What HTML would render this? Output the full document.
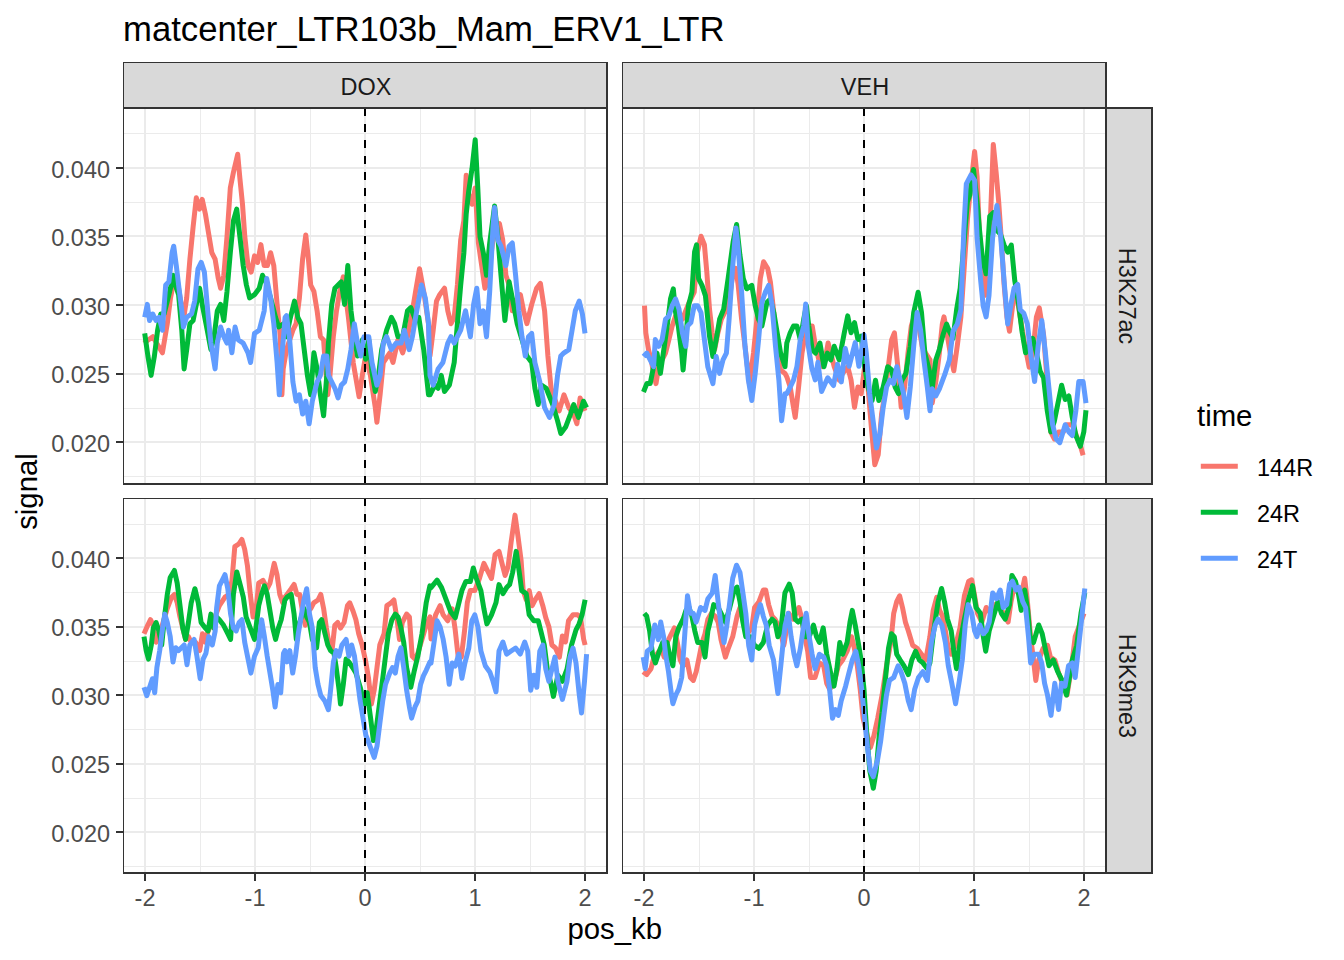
<!DOCTYPE html><html><head><meta charset="utf-8"><style>html,body{margin:0;padding:0;background:#fff;}svg{display:block} text{font-family:'Liberation Sans', sans-serif}</style></head><body>
<svg width="1344" height="960" viewBox="0 0 1344 960">
<rect x="0" y="0" width="1344" height="960" fill="#fff"/>
<text x="123" y="41" font-size="34.7" fill="#000">matcenter_LTR103b_Mam_ERV1_LTR</text>
<g shape-rendering="crispEdges"><rect x="123" y="476" width="485" height="1" fill="#EBEBEB"/><rect x="123" y="408" width="485" height="1" fill="#EBEBEB"/><rect x="123" y="339" width="485" height="1" fill="#EBEBEB"/><rect x="123" y="271" width="485" height="1" fill="#EBEBEB"/><rect x="123" y="202" width="485" height="1" fill="#EBEBEB"/><rect x="123" y="133" width="485" height="1" fill="#EBEBEB"/><rect x="200" y="108" width="1" height="377" fill="#EBEBEB"/><rect x="310" y="108" width="1" height="377" fill="#EBEBEB"/><rect x="420" y="108" width="1" height="377" fill="#EBEBEB"/><rect x="530" y="108" width="1" height="377" fill="#EBEBEB"/><rect x="123" y="441" width="485" height="2" fill="#EBEBEB"/><rect x="123" y="373" width="485" height="2" fill="#EBEBEB"/><rect x="123" y="304" width="485" height="2" fill="#EBEBEB"/><rect x="123" y="235" width="485" height="2" fill="#EBEBEB"/><rect x="123" y="167" width="485" height="2" fill="#EBEBEB"/><rect x="144" y="108" width="2" height="377" fill="#EBEBEB"/><rect x="254" y="108" width="2" height="377" fill="#EBEBEB"/><rect x="364" y="108" width="2" height="377" fill="#EBEBEB"/><rect x="474" y="108" width="2" height="377" fill="#EBEBEB"/><rect x="584" y="108" width="2" height="377" fill="#EBEBEB"/></g>
<path d="M144.0,343.1 L152.8,336.7 L162.4,352.8 L167.3,323.7 L170.5,297.9 L173.7,281.8 L177.0,278.5 L180.2,297.9 L183.4,320.5 L186.7,297.9 L189.9,259.2 L193.1,226.9 L196.3,197.8 L199.6,209.1 L202.2,199.4 L205.4,214.0 L208.6,233.3 L211.8,252.7 L215.1,259.2 L218.3,278.5 L220.6,288.2 L223.8,275.3 L227.0,236.6 L230.3,188.1 L233.5,172.0 L237.7,154.2 L239.9,178.4 L242.5,204.3 L244.8,236.6 L248.0,265.6 L251.2,272.1 L254.5,255.9 L257.7,262.4 L260.9,244.6 L264.2,265.6 L267.4,265.6 L270.6,252.7 L273.8,265.6 L277.1,304.4 L280.3,336.7 L281.9,394.8 L283.2,368.9 L286.5,349.6 L292.9,330.2 L296.1,323.7 L299.4,297.9 L302.6,259.2 L305.8,234.9 L308.4,259.2 L310.7,285.0 L313.9,291.4 L317.1,310.8 L320.4,336.7 L323.6,339.9 L325.2,362.5 L327.8,394.8 L330.0,375.4 L333.3,336.7 L336.5,310.8 L339.7,291.4 L343.3,276.9 L348.5,318.2 L353.3,363.1 L359.1,396.7 L362.3,375.4 L365.6,356.0 L370.4,375.4 L375.3,407.7 L376.9,422.2 L380.1,394.8 L383.3,362.5 L389.8,352.8 L393.0,362.5 L397.9,339.9 L402.7,352.8 L407.5,336.7 L412.4,310.8 L415.6,291.4 L419.5,268.8 L423.7,291.4 L428.5,323.7 L430.0,356.0 L433.2,330.2 L436.5,301.1 L439.7,294.7 L444.5,288.2 L447.8,310.8 L451.0,323.7 L454.2,317.3 L457.4,285.0 L460.7,239.8 L463.9,220.4 L466.2,175.2 L468.7,194.6 L472.0,204.3 L475.2,188.1 L478.4,243.0 L481.7,265.6 L484.9,288.2 L488.1,281.8 L491.3,252.7 L494.6,226.9 L499.4,223.6 L502.7,239.8 L505.9,275.3 L509.1,285.0 L512.3,310.8 L515.6,301.1 L520.4,294.7 L523.6,310.8 L526.9,323.7 L531.7,304.4 L536.6,288.2 L540.4,283.4 L544.6,310.8 L547.9,356.0 L551.1,388.3 L554.3,398.0 L559.2,410.9 L564.0,394.8 L568.8,407.7 L573.7,414.1 L576.9,423.8 L580.1,398.0 L585.0,410.9" fill="none" stroke="#F8766D" stroke-width="5.0" stroke-linejoin="round" stroke-linecap="butt"/>
<path d="M144.7,333.4 L147.9,356.0 L151.1,375.4 L154.4,356.0 L157.6,330.2 L160.8,314.0 L164.1,314.0 L167.3,301.1 L170.5,288.2 L173.1,275.3 L175.4,285.0 L178.6,294.7 L181.8,330.2 L184.1,368.9 L186.7,349.6 L189.9,323.7 L193.1,320.5 L196.3,304.4 L199.6,288.2 L202.8,307.6 L206.0,323.7 L210.9,349.6 L214.1,336.7 L217.3,310.8 L220.6,304.4 L223.8,320.5 L227.0,291.4 L230.3,252.7 L233.5,220.4 L236.7,209.1 L239.9,236.6 L243.2,265.6 L246.4,285.0 L249.6,297.9 L254.5,294.7 L259.3,288.2 L262.5,275.3 L265.8,281.8 L270.6,297.9 L275.5,317.3 L278.7,327.0 L283.5,323.7 L286.5,336.7 L289.7,320.5 L294.5,301.1 L297.8,317.3 L301.0,323.7 L304.2,349.6 L307.4,375.4 L310.7,394.8 L313.9,352.8 L317.1,368.9 L320.4,394.8 L323.6,415.8 L326.8,375.4 L328.4,343.1 L331.7,304.4 L334.9,288.2 L338.1,285.0 L341.3,281.8 L344.6,304.4 L347.8,265.6 L351.0,310.8 L354.3,336.7 L357.5,356.0 L362.3,339.9 L365.6,359.3 L368.8,339.9 L372.0,372.2 L375.3,391.5 L378.5,375.4 L381.7,349.6 L386.6,330.2 L391.4,317.3 L394.6,323.7 L397.9,336.7 L402.7,336.7 L407.5,310.8 L410.8,307.6 L415.6,320.5 L418.8,317.3 L423.7,349.6 L428.5,394.8 L430.0,394.8 L434.8,385.1 L438.1,388.3 L441.3,375.4 L444.5,391.5 L449.4,385.1 L454.2,362.5 L457.4,323.7 L460.7,285.0 L463.9,252.7 L466.2,214.0 L468.7,191.3 L472.0,168.7 L475.2,139.7 L477.8,188.1 L480.0,236.6 L483.3,252.7 L486.5,275.3 L489.7,243.0 L494.6,205.9 L497.8,236.6 L501.0,275.3 L504.9,320.5 L509.1,281.8 L512.3,297.9 L517.2,323.7 L522.0,339.9 L526.9,356.0 L531.7,362.5 L534.9,388.3 L538.2,404.5 L541.4,385.1 L546.2,388.3 L552.7,404.5 L557.5,420.6 L560.8,433.5 L565.6,427.1 L570.5,414.1 L573.7,404.5 L578.5,417.4 L583.4,401.2 L586.6,407.7" fill="none" stroke="#00BA38" stroke-width="5.0" stroke-linejoin="round" stroke-linecap="butt"/>
<path d="M144.7,317.3 L147.3,304.4 L149.5,320.5 L152.8,314.0 L156.0,320.5 L159.2,317.3 L162.4,330.2 L165.7,285.0 L168.9,281.8 L172.1,252.7 L173.7,246.2 L176.3,265.6 L178.6,285.0 L181.8,310.8 L183.4,327.0 L186.7,317.3 L191.5,314.0 L194.7,301.1 L198.0,268.8 L201.2,262.4 L204.4,272.1 L207.7,310.8 L210.9,343.1 L215.1,368.9 L217.3,343.1 L220.6,327.0 L223.8,336.7 L227.0,343.1 L228.6,330.2 L231.9,352.8 L235.1,327.0 L238.3,339.9 L243.2,343.1 L248.0,352.8 L250.6,362.5 L254.5,333.4 L259.3,330.2 L264.2,310.8 L266.7,278.5 L270.6,297.9 L273.8,323.7 L277.1,362.5 L279.3,394.8 L281.9,356.0 L285.1,317.3 L286.5,315.7 L289.7,339.9 L292.9,381.9 L296.1,401.2 L299.4,394.8 L302.6,414.1 L305.8,401.2 L309.1,423.8 L312.3,401.2 L317.1,381.9 L320.4,375.4 L323.6,356.0 L326.8,356.0 L328.4,375.4 L331.7,381.9 L334.9,388.3 L338.1,398.0 L341.3,385.1 L344.6,381.9 L347.8,368.9 L351.0,349.6 L354.3,323.7 L357.5,343.1 L360.7,356.0 L364.0,336.7 L368.8,336.7 L372.0,362.5 L376.9,385.1 L380.1,375.4 L383.3,343.1 L386.6,336.7 L391.4,349.6 L396.2,343.1 L401.1,343.1 L404.3,330.2 L409.2,349.6 L412.4,336.7 L415.6,317.3 L421.4,285.0 L425.3,297.9 L428.5,323.7 L430.0,375.4 L433.2,385.1 L438.1,368.9 L442.9,362.5 L447.8,343.1 L451.0,336.7 L454.2,343.1 L457.4,336.7 L460.7,330.2 L465.5,310.8 L470.4,336.7 L473.6,304.4 L476.8,288.2 L480.0,323.7 L483.3,310.8 L486.5,336.7 L489.7,291.4 L493.0,226.9 L494.6,207.5 L497.8,239.8 L501.0,246.2 L505.9,265.6 L509.1,246.2 L512.3,243.0 L515.6,275.3 L518.8,310.8 L522.0,336.7 L525.3,356.0 L528.5,336.7 L531.7,333.4 L534.9,362.5 L539.8,381.9 L544.6,407.7 L549.5,417.4 L554.3,404.5 L557.5,375.4 L560.8,356.0 L564.0,352.8 L568.8,349.6 L572.1,330.2 L575.3,310.8 L579.2,301.1 L582.4,314.0 L585.0,333.4" fill="none" stroke="#619CFF" stroke-width="5.0" stroke-linejoin="round" stroke-linecap="butt"/>
<g shape-rendering="crispEdges"><rect x="364" y="108" width="2" height="8" fill="#000"/><rect x="364" y="124" width="2" height="8" fill="#000"/><rect x="364" y="140" width="2" height="8" fill="#000"/><rect x="364" y="156" width="2" height="8" fill="#000"/><rect x="364" y="172" width="2" height="8" fill="#000"/><rect x="364" y="188" width="2" height="8" fill="#000"/><rect x="364" y="204" width="2" height="8" fill="#000"/><rect x="364" y="220" width="2" height="8" fill="#000"/><rect x="364" y="236" width="2" height="8" fill="#000"/><rect x="364" y="252" width="2" height="8" fill="#000"/><rect x="364" y="268" width="2" height="8" fill="#000"/><rect x="364" y="284" width="2" height="8" fill="#000"/><rect x="364" y="300" width="2" height="8" fill="#000"/><rect x="364" y="316" width="2" height="8" fill="#000"/><rect x="364" y="332" width="2" height="8" fill="#000"/><rect x="364" y="348" width="2" height="8" fill="#000"/><rect x="364" y="364" width="2" height="8" fill="#000"/><rect x="364" y="380" width="2" height="8" fill="#000"/><rect x="364" y="396" width="2" height="8" fill="#000"/><rect x="364" y="412" width="2" height="8" fill="#000"/><rect x="364" y="428" width="2" height="8" fill="#000"/><rect x="364" y="444" width="2" height="8" fill="#000"/><rect x="364" y="460" width="2" height="8" fill="#000"/><rect x="364" y="476" width="2" height="8" fill="#000"/></g>
<g shape-rendering="crispEdges"><rect x="123" y="108" width="1" height="377" fill="#333333"/><rect x="606" y="108" width="2" height="377" fill="#333333"/><rect x="123" y="107" width="485" height="2" fill="#333333"/><rect x="123" y="483" width="485" height="2" fill="#333333"/></g>
<g shape-rendering="crispEdges"><rect x="622" y="476" width="485" height="1" fill="#EBEBEB"/><rect x="622" y="408" width="485" height="1" fill="#EBEBEB"/><rect x="622" y="339" width="485" height="1" fill="#EBEBEB"/><rect x="622" y="271" width="485" height="1" fill="#EBEBEB"/><rect x="622" y="202" width="485" height="1" fill="#EBEBEB"/><rect x="622" y="133" width="485" height="1" fill="#EBEBEB"/><rect x="699" y="108" width="1" height="377" fill="#EBEBEB"/><rect x="809" y="108" width="1" height="377" fill="#EBEBEB"/><rect x="919" y="108" width="1" height="377" fill="#EBEBEB"/><rect x="1029" y="108" width="1" height="377" fill="#EBEBEB"/><rect x="622" y="441" width="485" height="2" fill="#EBEBEB"/><rect x="622" y="373" width="485" height="2" fill="#EBEBEB"/><rect x="622" y="304" width="485" height="2" fill="#EBEBEB"/><rect x="622" y="235" width="485" height="2" fill="#EBEBEB"/><rect x="622" y="167" width="485" height="2" fill="#EBEBEB"/><rect x="643" y="108" width="2" height="377" fill="#EBEBEB"/><rect x="753" y="108" width="2" height="377" fill="#EBEBEB"/><rect x="863" y="108" width="2" height="377" fill="#EBEBEB"/><rect x="973" y="108" width="2" height="377" fill="#EBEBEB"/><rect x="1083" y="108" width="2" height="377" fill="#EBEBEB"/></g>
<path d="M644.5,305.7 L645.8,332.8 L648.5,349.7 L651.2,359.9 L653.6,373.4 L656.0,383.6 L658.7,366.7 L662.1,359.9 L665.5,353.1 L668.9,339.6 L672.2,326.0 L675.6,315.9 L679.0,312.5 L682.4,319.3 L689.2,302.3 L694.2,292.2 L697.6,251.6 L701.0,236.3 L704.4,244.8 L706.8,271.9 L709.5,309.1 L712.2,332.8 L714.6,349.7 L717.9,332.8 L721.3,319.3 L726.4,309.1 L729.8,295.6 L733.2,271.9 L735.9,268.5 L738.2,285.4 L741.6,319.3 L745.0,346.3 L749.4,383.6 L753.5,353.1 L756.9,319.3 L760.3,278.6 L763.6,261.7 L767.7,268.5 L770.4,282.0 L773.8,312.5 L777.2,353.1 L780.6,370.0 L785.0,373.4 L786.8,376.8 L790.2,387.0 L793.5,407.3 L795.2,417.4 L798.6,387.0 L802.0,353.1 L805.4,332.8 L808.8,326.0 L812.2,326.0 L815.5,346.3 L818.9,359.9 L822.3,366.7 L825.7,356.5 L828.1,343.0 L830.8,353.1 L834.2,366.7 L839.2,380.2 L842.6,373.4 L847.7,366.7 L851.1,380.2 L854.5,407.3 L857.9,387.0 L861.2,393.7 L864.6,366.7 L868.0,387.0 L871.4,427.6 L874.8,464.8 L878.2,454.7 L881.6,414.0 L884.9,393.7 L888.3,366.7 L891.7,339.6 L894.4,332.8 L897.8,366.7 L901.2,407.3 L904.6,387.0 L908.0,353.1 L911.3,326.0 L915.4,312.5 L918.8,326.0 L922.2,346.3 L925.6,353.1 L930.0,359.9 L932.2,403.1 L935.8,381.6 L939.4,352.8 L942.3,324.1 L944.0,316.9 L946.6,331.3 L950.2,352.8 L953.8,370.8 L957.3,345.6 L960.9,316.9 L963.8,273.8 L967.4,219.8 L971.0,183.9 L974.6,151.6 L977.1,176.7 L979.6,237.8 L982.5,273.8 L985.4,295.3 L987.9,273.8 L990.4,219.8 L993.3,144.4 L996.2,173.1 L998.7,201.9 L1001.2,237.8 L1004.1,284.5 L1006.9,316.9 L1009.5,331.3 L1013.0,302.5 L1016.6,295.3 L1020.2,316.9 L1024.9,345.6 L1029.2,367.2 L1032.8,352.8 L1036.4,316.9 L1039.3,307.9 L1043.6,334.8 L1047.2,381.6 L1050.8,431.9 L1054.4,439.1 L1058.7,431.9 L1063.4,431.9 L1067.0,424.7 L1072.3,424.7 L1077.7,439.1 L1080.6,446.3 L1083.1,455.2" fill="none" stroke="#F8766D" stroke-width="5.0" stroke-linejoin="round" stroke-linecap="butt"/>
<path d="M643.5,392.0 L646.8,383.6 L650.2,383.6 L653.6,366.7 L657.0,353.1 L660.4,373.4 L663.8,349.7 L667.2,326.0 L670.5,299.0 L673.3,288.8 L675.6,312.5 L678.3,326.0 L681.7,353.1 L683.1,370.0 L685.8,339.6 L688.5,305.7 L691.9,292.2 L694.6,251.6 L696.6,244.8 L698.6,278.6 L702.0,285.4 L705.4,295.6 L709.5,336.2 L712.9,356.5 L716.2,339.6 L719.6,319.3 L723.7,309.1 L728.1,278.6 L733.2,241.4 L736.6,224.5 L739.9,254.9 L743.3,278.6 L746.7,288.8 L751.8,285.4 L755.2,305.7 L758.6,319.3 L761.9,326.0 L767.0,302.3 L770.4,299.0 L773.8,312.5 L777.2,332.8 L780.6,353.1 L785.0,366.7 L786.8,343.0 L790.2,332.8 L793.5,326.0 L796.9,326.0 L800.3,339.6 L803.7,319.3 L806.4,305.7 L808.8,326.0 L812.2,349.7 L815.5,353.1 L819.9,343.0 L824.0,366.7 L827.4,353.1 L830.8,359.9 L834.2,346.3 L839.2,359.9 L844.3,332.8 L847.7,315.9 L851.1,332.8 L854.5,322.6 L857.9,339.6 L861.2,336.2 L864.6,366.7 L868.0,387.0 L872.1,400.5 L875.5,380.2 L878.8,400.5 L883.2,387.0 L887.7,366.7 L891.7,370.0 L895.1,387.0 L898.5,393.7 L901.9,380.2 L905.9,373.4 L910.3,346.3 L913.7,312.5 L918.1,292.2 L921.5,312.5 L924.9,353.1 L930.0,373.4 L932.2,388.8 L935.8,360.0 L939.4,349.2 L943.0,334.8 L946.6,324.1 L949.4,331.3 L953.0,338.4 L956.6,309.7 L960.2,288.1 L963.8,245.0 L967.4,201.9 L969.9,194.7 L973.5,169.5 L977.1,201.9 L979.6,230.6 L982.5,259.4 L986.1,273.8 L989.7,216.3 L993.3,212.7 L996.9,230.6 L1000.5,234.2 L1004.1,245.0 L1007.7,252.2 L1011.3,245.0 L1014.8,280.9 L1018.4,302.5 L1022.0,331.3 L1025.6,352.8 L1029.2,345.6 L1032.8,338.4 L1036.4,352.8 L1040.0,370.8 L1043.6,378.0 L1047.2,410.3 L1050.8,431.9 L1054.4,421.1 L1058.0,403.1 L1061.6,385.2 L1065.2,399.5 L1068.8,395.9 L1072.3,417.5 L1075.9,435.5 L1080.3,446.3 L1083.8,431.9 L1086.0,410.3" fill="none" stroke="#00BA38" stroke-width="5.0" stroke-linejoin="round" stroke-linecap="butt"/>
<path d="M643.5,356.5 L646.8,353.1 L650.2,359.9 L653.6,366.7 L655.3,339.6 L658.7,346.3 L662.1,339.6 L665.5,319.3 L668.9,315.9 L672.2,305.7 L675.6,299.0 L679.0,309.1 L682.4,332.8 L685.8,346.3 L687.5,326.0 L690.9,322.6 L694.2,305.7 L697.6,305.7 L701.0,312.5 L704.4,339.6 L707.8,366.7 L712.9,383.6 L716.2,356.5 L719.6,373.4 L723.0,359.9 L726.4,353.1 L729.1,319.3 L732.5,268.5 L735.9,227.9 L738.2,248.2 L741.6,292.2 L745.0,346.3 L748.4,380.2 L751.8,400.5 L755.2,373.4 L758.6,339.6 L761.9,302.3 L765.3,292.2 L768.7,285.4 L772.1,305.7 L775.5,346.3 L778.9,380.2 L781.6,420.8 L785.0,393.7 L786.8,393.7 L790.2,387.0 L793.5,380.2 L796.9,366.7 L800.3,339.6 L803.7,326.0 L805.7,304.0 L808.1,344.7 L811.8,368.0 L815.2,379.9 L817.9,362.3 L821.6,391.4 L827.7,377.8 L833.5,385.6 L837.5,364.3 L841.3,381.9 L845.3,348.4 L849.1,366.3 L855.2,342.6 L858.9,366.3 L864.0,334.8 L866.3,353.1 L869.7,393.7 L873.1,420.8 L876.5,447.9 L879.9,434.4 L883.2,407.3 L886.6,387.0 L890.0,380.2 L893.4,383.6 L896.8,366.7 L900.2,380.2 L903.6,393.7 L906.9,417.4 L910.3,387.0 L913.7,346.3 L917.1,312.5 L920.5,329.4 L923.9,359.9 L927.3,387.0 L930.0,410.7 L932.2,388.8 L935.8,395.9 L939.4,388.8 L944.8,374.4 L949.4,360.0 L953.0,331.3 L957.3,324.1 L960.9,309.7 L963.8,230.6 L966.3,183.9 L971.0,174.9 L974.6,180.3 L977.1,237.8 L980.7,280.9 L983.2,306.1 L986.1,316.9 L989.0,295.3 L992.6,237.8 L996.9,205.5 L1000.5,234.2 L1004.1,280.9 L1007.7,324.1 L1011.3,302.5 L1014.1,288.1 L1017.7,284.5 L1020.2,309.7 L1023.8,313.3 L1027.4,324.1 L1031.0,356.4 L1034.6,381.6 L1038.2,345.6 L1041.8,320.5 L1045.4,352.8 L1049.0,388.8 L1052.6,424.7 L1056.2,439.1 L1059.8,442.7 L1065.2,424.7 L1068.8,431.9 L1072.3,435.5 L1075.9,410.3 L1078.8,381.6 L1083.1,381.6 L1086.0,403.1" fill="none" stroke="#619CFF" stroke-width="5.0" stroke-linejoin="round" stroke-linecap="butt"/>
<g shape-rendering="crispEdges"><rect x="863" y="108" width="2" height="8" fill="#000"/><rect x="863" y="124" width="2" height="8" fill="#000"/><rect x="863" y="140" width="2" height="8" fill="#000"/><rect x="863" y="156" width="2" height="8" fill="#000"/><rect x="863" y="172" width="2" height="8" fill="#000"/><rect x="863" y="188" width="2" height="8" fill="#000"/><rect x="863" y="204" width="2" height="8" fill="#000"/><rect x="863" y="220" width="2" height="8" fill="#000"/><rect x="863" y="236" width="2" height="8" fill="#000"/><rect x="863" y="252" width="2" height="8" fill="#000"/><rect x="863" y="268" width="2" height="8" fill="#000"/><rect x="863" y="284" width="2" height="8" fill="#000"/><rect x="863" y="300" width="2" height="8" fill="#000"/><rect x="863" y="316" width="2" height="8" fill="#000"/><rect x="863" y="332" width="2" height="8" fill="#000"/><rect x="863" y="348" width="2" height="8" fill="#000"/><rect x="863" y="364" width="2" height="8" fill="#000"/><rect x="863" y="380" width="2" height="8" fill="#000"/><rect x="863" y="396" width="2" height="8" fill="#000"/><rect x="863" y="412" width="2" height="8" fill="#000"/><rect x="863" y="428" width="2" height="8" fill="#000"/><rect x="863" y="444" width="2" height="8" fill="#000"/><rect x="863" y="460" width="2" height="8" fill="#000"/><rect x="863" y="476" width="2" height="8" fill="#000"/></g>
<g shape-rendering="crispEdges"><rect x="622" y="108" width="1" height="377" fill="#333333"/><rect x="1105" y="108" width="2" height="377" fill="#333333"/><rect x="622" y="107" width="485" height="2" fill="#333333"/><rect x="622" y="483" width="485" height="2" fill="#333333"/></g>
<g shape-rendering="crispEdges"><rect x="123" y="866" width="485" height="1" fill="#EBEBEB"/><rect x="123" y="798" width="485" height="1" fill="#EBEBEB"/><rect x="123" y="729" width="485" height="1" fill="#EBEBEB"/><rect x="123" y="661" width="485" height="1" fill="#EBEBEB"/><rect x="123" y="592" width="485" height="1" fill="#EBEBEB"/><rect x="123" y="524" width="485" height="1" fill="#EBEBEB"/><rect x="200" y="498" width="1" height="376" fill="#EBEBEB"/><rect x="310" y="498" width="1" height="376" fill="#EBEBEB"/><rect x="420" y="498" width="1" height="376" fill="#EBEBEB"/><rect x="530" y="498" width="1" height="376" fill="#EBEBEB"/><rect x="123" y="831" width="485" height="2" fill="#EBEBEB"/><rect x="123" y="763" width="485" height="2" fill="#EBEBEB"/><rect x="123" y="694" width="485" height="2" fill="#EBEBEB"/><rect x="123" y="626" width="485" height="2" fill="#EBEBEB"/><rect x="123" y="557" width="485" height="2" fill="#EBEBEB"/><rect x="144" y="498" width="2" height="376" fill="#EBEBEB"/><rect x="254" y="498" width="2" height="376" fill="#EBEBEB"/><rect x="364" y="498" width="2" height="376" fill="#EBEBEB"/><rect x="474" y="498" width="2" height="376" fill="#EBEBEB"/><rect x="584" y="498" width="2" height="376" fill="#EBEBEB"/></g>
<path d="M144.0,633.7 L147.7,625.3 L150.5,619.7 L153.3,625.3 L156.1,642.2 L158.9,636.6 L163.1,622.5 L167.3,608.4 L171.6,597.2 L174.4,594.4 L177.2,602.8 L180.0,616.9 L182.8,628.1 L185.6,639.4 L188.4,636.6 L191.2,642.2 L195.5,642.2 L199.7,650.6 L202.5,633.7 L205.3,642.2 L208.1,630.9 L213.7,619.7 L219.4,605.6 L225.0,597.2 L229.2,594.4 L232.0,580.3 L234.8,546.6 L239.1,543.7 L241.9,539.5 L244.7,549.4 L247.5,566.2 L250.3,594.4 L253.1,616.9 L255.9,611.2 L258.7,583.1 L263.0,580.3 L267.2,588.7 L270.0,583.1 L274.2,563.4 L277.0,574.7 L279.8,594.4 L282.7,602.8 L282.8,600.0 L287.0,594.4 L291.2,588.7 L294.1,584.5 L296.9,594.4 L299.7,594.4 L302.5,611.2 L305.3,625.3 L308.1,611.2 L310.9,608.4 L313.7,602.8 L318.0,600.0 L320.8,594.4 L323.6,608.4 L326.4,628.1 L329.2,645.0 L332.0,650.6 L334.8,625.3 L337.7,622.5 L340.5,628.1 L344.1,622.5 L347.5,605.6 L349.7,602.8 L353.1,611.2 L355.9,619.7 L358.7,633.7 L362.1,645.0 L365.8,661.9 L368.6,678.7 L371.4,704.1 L374.2,690.0 L377.0,667.5 L379.8,645.0 L384.1,633.7 L386.9,605.6 L391.1,602.8 L393.9,600.0 L396.7,616.9 L399.5,639.4 L402.3,622.5 L406.6,614.1 L409.4,616.9 L412.2,656.2 L415.0,659.1 L417.8,653.4 L422.0,639.4 L426.2,625.3 L429.9,616.9 L431.0,639.0 L435.6,614.8 L440.1,605.7 L443.1,614.8 L447.7,620.8 L452.2,608.8 L455.2,629.9 L458.2,657.1 L461.3,657.1 L464.3,632.9 L467.3,602.7 L470.3,590.6 L474.8,590.6 L479.4,578.5 L483.9,563.4 L488.4,572.5 L491.5,578.5 L495.1,554.4 L499.0,551.4 L502.0,563.4 L505.1,575.5 L508.1,566.5 L511.1,542.3 L515.0,515.1 L518.0,536.3 L521.1,560.4 L523.2,590.6 L526.2,599.7 L529.2,590.6 L532.2,605.7 L535.3,599.7 L539.2,593.6 L542.8,605.7 L545.8,617.8 L548.9,626.9 L551.9,645.0 L555.5,648.0 L559.4,657.1 L562.4,635.9 L565.5,642.0 L568.5,620.8 L573.0,614.8 L577.6,614.8 L580.6,617.8 L583.6,639.0 L585.1,645.0" fill="none" stroke="#F8766D" stroke-width="5.0" stroke-linejoin="round" stroke-linecap="butt"/>
<path d="M144.0,636.6 L146.2,650.6 L148.5,659.1 L151.3,645.0 L153.3,628.1 L156.1,622.5 L158.9,630.9 L161.7,645.0 L164.5,616.9 L167.3,594.4 L170.2,577.5 L174.4,570.5 L177.2,583.1 L180.0,605.6 L182.8,628.1 L185.6,639.4 L188.4,622.5 L191.2,602.8 L194.9,588.7 L198.3,602.8 L201.1,622.5 L205.3,628.1 L208.1,630.9 L210.9,614.1 L213.7,628.1 L216.6,616.9 L219.4,619.7 L223.6,625.3 L227.8,633.7 L230.6,639.4 L233.4,594.4 L236.8,571.9 L240.5,585.9 L243.3,597.2 L246.1,616.9 L250.3,628.1 L254.5,639.4 L258.7,605.6 L261.6,594.4 L264.4,585.9 L267.2,594.4 L270.0,611.2 L272.8,628.1 L275.6,639.4 L278.4,628.1 L281.2,619.7 L284.9,600.0 L287.0,597.2 L291.2,594.4 L294.1,614.1 L296.3,639.4 L299.7,622.5 L303.9,608.4 L306.7,616.9 L309.5,622.5 L312.3,639.4 L316.6,647.8 L319.4,622.5 L321.6,619.7 L325.0,633.7 L327.8,645.0 L330.6,650.6 L334.0,653.4 L336.2,667.5 L339.1,690.0 L340.5,704.1 L343.3,684.4 L346.1,659.1 L348.9,661.9 L352.6,667.5 L355.9,673.1 L360.2,687.2 L364.4,704.1 L367.2,692.8 L370.6,718.1 L373.4,740.6 L376.2,729.4 L379.8,701.2 L382.7,678.7 L385.5,656.2 L388.3,633.7 L391.9,619.7 L395.3,614.1 L398.1,616.9 L400.9,628.1 L403.7,642.2 L406.6,667.5 L410.8,687.2 L414.4,670.3 L417.8,656.2 L422.0,633.7 L426.2,602.8 L429.9,585.9 L431.0,587.6 L437.1,580.1 L441.6,587.6 L446.1,599.7 L450.7,611.8 L455.2,617.8 L458.2,605.7 L461.9,590.6 L465.8,581.6 L470.3,581.6 L473.3,568.0 L476.4,578.5 L480.9,590.6 L483.9,608.8 L486.9,623.9 L491.5,614.8 L496.0,602.7 L499.0,584.6 L502.9,593.6 L506.6,587.6 L509.6,584.6 L512.6,572.5 L516.2,551.4 L519.3,572.5 L521.7,590.6 L526.2,593.6 L529.2,614.8 L533.8,620.8 L538.3,620.8 L541.3,632.9 L544.3,645.0 L547.3,669.2 L550.4,681.3 L553.4,696.4 L557.9,675.2 L562.4,681.3 L567.0,669.2 L571.5,645.0 L576.0,629.9 L579.1,623.9 L582.1,614.8 L585.1,599.7" fill="none" stroke="#00BA38" stroke-width="5.0" stroke-linejoin="round" stroke-linecap="butt"/>
<path d="M144.0,687.2 L146.8,695.6 L149.6,687.2 L152.4,678.7 L154.7,692.8 L156.9,667.5 L159.7,650.6 L162.6,628.1 L164.8,614.1 L167.3,622.5 L170.2,636.6 L173.0,661.9 L175.8,647.8 L178.6,650.6 L181.4,647.8 L184.2,645.0 L187.0,664.7 L189.8,645.0 L194.1,639.4 L196.9,656.2 L200.2,678.7 L203.1,659.1 L205.9,653.4 L208.7,636.6 L212.3,645.0 L215.2,630.9 L216.6,608.4 L219.4,585.9 L222.2,580.3 L225.0,574.7 L227.8,588.7 L230.6,614.1 L233.4,628.1 L236.2,630.9 L239.1,622.5 L241.9,619.7 L244.7,642.2 L247.5,656.2 L250.9,673.1 L254.5,656.2 L258.2,647.8 L261.6,619.7 L264.4,636.6 L267.2,656.2 L270.0,673.1 L272.8,690.0 L275.1,706.9 L277.9,684.4 L280.7,692.8 L283.5,653.4 L284.9,650.6 L287.0,661.9 L289.8,650.6 L292.7,673.1 L295.5,656.2 L298.3,633.7 L301.1,616.9 L303.9,600.0 L306.7,588.7 L309.5,614.1 L312.3,628.1 L315.2,667.5 L318.0,684.4 L320.8,695.6 L325.0,701.2 L328.4,709.7 L330.6,690.0 L333.4,661.9 L336.2,650.6 L339.1,656.2 L341.9,645.0 L346.1,639.4 L348.9,656.2 L351.7,645.0 L354.5,656.2 L357.3,678.7 L360.2,701.2 L363.0,718.1 L365.8,735.0 L370.0,746.2 L374.2,757.5 L377.0,746.2 L379.8,723.7 L382.7,701.2 L385.5,684.4 L389.7,673.1 L392.5,667.5 L395.3,673.1 L398.1,656.2 L400.9,647.8 L403.7,667.5 L406.6,690.0 L409.4,706.9 L411.6,718.1 L415.0,706.9 L417.8,701.2 L420.6,684.4 L423.4,675.9 L426.2,670.3 L429.9,661.9 L431.0,663.1 L434.1,642.0 L437.1,620.8 L440.1,626.9 L443.1,639.0 L446.1,657.1 L449.2,684.3 L452.2,663.1 L455.2,666.1 L458.8,654.1 L461.9,678.2 L464.9,663.1 L468.8,648.0 L471.8,620.8 L474.8,614.8 L477.9,626.9 L480.9,651.0 L485.4,666.1 L489.9,672.2 L493.0,681.3 L496.0,691.8 L499.0,651.0 L502.9,642.0 L506.6,654.1 L511.1,651.0 L515.6,648.0 L520.2,654.1 L524.7,642.0 L527.7,651.0 L530.7,690.3 L533.8,675.2 L536.8,687.3 L539.8,651.0 L542.8,645.0 L545.8,669.2 L548.9,681.3 L551.9,669.2 L554.9,657.1 L557.9,681.3 L562.4,699.4 L567.0,681.3 L570.0,657.1 L573.0,648.0 L576.0,663.1 L579.1,693.3 L581.5,713.0 L584.5,681.3 L586.6,654.1" fill="none" stroke="#619CFF" stroke-width="5.0" stroke-linejoin="round" stroke-linecap="butt"/>
<g shape-rendering="crispEdges"><rect x="364" y="498" width="2" height="8" fill="#000"/><rect x="364" y="514" width="2" height="8" fill="#000"/><rect x="364" y="530" width="2" height="8" fill="#000"/><rect x="364" y="546" width="2" height="8" fill="#000"/><rect x="364" y="562" width="2" height="8" fill="#000"/><rect x="364" y="578" width="2" height="8" fill="#000"/><rect x="364" y="594" width="2" height="8" fill="#000"/><rect x="364" y="610" width="2" height="8" fill="#000"/><rect x="364" y="626" width="2" height="8" fill="#000"/><rect x="364" y="642" width="2" height="8" fill="#000"/><rect x="364" y="658" width="2" height="8" fill="#000"/><rect x="364" y="674" width="2" height="8" fill="#000"/><rect x="364" y="690" width="2" height="8" fill="#000"/><rect x="364" y="706" width="2" height="8" fill="#000"/><rect x="364" y="722" width="2" height="8" fill="#000"/><rect x="364" y="738" width="2" height="8" fill="#000"/><rect x="364" y="754" width="2" height="8" fill="#000"/><rect x="364" y="770" width="2" height="8" fill="#000"/><rect x="364" y="786" width="2" height="8" fill="#000"/><rect x="364" y="802" width="2" height="8" fill="#000"/><rect x="364" y="818" width="2" height="8" fill="#000"/><rect x="364" y="834" width="2" height="8" fill="#000"/><rect x="364" y="850" width="2" height="8" fill="#000"/><rect x="364" y="866" width="2" height="7" fill="#000"/></g>
<g shape-rendering="crispEdges"><rect x="123" y="498" width="1" height="376" fill="#333333"/><rect x="606" y="498" width="2" height="376" fill="#333333"/><rect x="123" y="498" width="485" height="1" fill="#333333"/><rect x="123" y="872" width="485" height="2" fill="#333333"/></g>
<g shape-rendering="crispEdges"><rect x="622" y="866" width="485" height="1" fill="#EBEBEB"/><rect x="622" y="798" width="485" height="1" fill="#EBEBEB"/><rect x="622" y="729" width="485" height="1" fill="#EBEBEB"/><rect x="622" y="661" width="485" height="1" fill="#EBEBEB"/><rect x="622" y="592" width="485" height="1" fill="#EBEBEB"/><rect x="622" y="524" width="485" height="1" fill="#EBEBEB"/><rect x="699" y="498" width="1" height="376" fill="#EBEBEB"/><rect x="809" y="498" width="1" height="376" fill="#EBEBEB"/><rect x="919" y="498" width="1" height="376" fill="#EBEBEB"/><rect x="1029" y="498" width="1" height="376" fill="#EBEBEB"/><rect x="622" y="831" width="485" height="2" fill="#EBEBEB"/><rect x="622" y="763" width="485" height="2" fill="#EBEBEB"/><rect x="622" y="694" width="485" height="2" fill="#EBEBEB"/><rect x="622" y="626" width="485" height="2" fill="#EBEBEB"/><rect x="622" y="557" width="485" height="2" fill="#EBEBEB"/><rect x="643" y="498" width="2" height="376" fill="#EBEBEB"/><rect x="753" y="498" width="2" height="376" fill="#EBEBEB"/><rect x="863" y="498" width="2" height="376" fill="#EBEBEB"/><rect x="973" y="498" width="2" height="376" fill="#EBEBEB"/><rect x="1083" y="498" width="2" height="376" fill="#EBEBEB"/></g>
<path d="M643.2,671.7 L646.7,674.6 L651.0,668.7 L654.0,657.1 L656.9,654.2 L661.2,648.3 L664.2,657.1 L667.1,642.5 L670.0,636.7 L674.4,627.9 L677.3,642.5 L680.2,660.0 L683.1,665.8 L686.9,660.0 L690.4,677.5 L693.3,680.4 L696.2,671.7 L699.2,657.1 L702.1,642.5 L705.0,633.7 L707.9,619.2 L711.4,613.3 L715.2,616.2 L718.1,622.1 L721.0,639.6 L725.4,657.1 L728.3,648.3 L732.7,636.7 L737.1,616.2 L740.0,607.5 L742.9,619.2 L747.3,633.7 L751.7,627.9 L754.6,607.5 L759.0,601.7 L763.3,590.0 L765.7,590.0 L768.6,604.6 L772.1,616.2 L775.0,619.2 L779.4,627.9 L783.7,645.4 L784.4,642.5 L788.7,613.3 L793.1,619.2 L799.0,607.5 L801.9,619.2 L804.8,636.7 L807.7,651.2 L810.6,677.5 L815.0,677.5 L819.4,662.9 L823.7,665.8 L826.7,683.3 L829.6,689.2 L834.0,683.3 L838.3,665.8 L842.7,660.0 L847.1,651.2 L851.5,636.7 L854.4,648.3 L857.3,665.8 L860.2,689.2 L863.1,718.3 L866.0,730.0 L870.4,747.5 L873.9,735.8 L877.7,718.3 L882.1,695.0 L886.5,665.8 L890.8,642.5 L893.7,613.3 L896.7,601.7 L899.6,595.8 L902.5,607.5 L905.4,622.1 L908.3,630.8 L912.7,645.4 L917.1,648.3 L921.5,654.2 L925.8,660.0 L929.9,636.7 L933.2,610.4 L936.7,597.3 L939.6,610.4 L942.5,616.2 L945.4,630.8 L948.3,648.3 L951.2,654.2 L955.6,645.4 L960.0,627.9 L964.4,595.8 L968.7,581.2 L971.7,579.8 L974.6,595.8 L977.5,613.3 L981.9,622.1 L986.2,607.5 L990.6,613.3 L995.0,604.6 L999.4,607.5 L1003.7,613.3 L1008.1,622.1 L1011.0,601.7 L1014.0,587.1 L1018.3,592.9 L1021.2,595.8 L1024.7,578.3 L1027.7,604.6 L1030.6,636.7 L1033.5,660.0 L1035.8,680.4 L1038.7,660.0 L1043.1,648.3 L1047.5,645.4 L1050.4,657.1 L1054.8,660.0 L1059.2,674.6 L1063.5,686.2 L1067.0,695.0 L1070.8,671.7 L1075.2,636.7 L1079.6,625.0 L1084.0,613.3" fill="none" stroke="#F8766D" stroke-width="5.0" stroke-linejoin="round" stroke-linecap="butt"/>
<path d="M644.3,613.3 L646.7,616.2 L649.6,630.8 L652.5,654.2 L655.4,662.9 L658.3,654.2 L662.7,642.5 L667.1,642.5 L670.0,657.1 L672.9,665.8 L675.8,636.7 L678.7,627.9 L683.1,619.2 L686.0,610.4 L689.0,607.5 L691.9,616.2 L694.8,630.8 L697.7,642.5 L702.1,642.5 L705.0,657.1 L707.9,630.8 L710.8,619.2 L713.7,604.6 L718.1,607.5 L722.5,616.2 L725.4,622.1 L729.8,607.5 L734.2,590.0 L737.1,587.1 L740.0,601.7 L742.9,622.1 L745.8,636.7 L750.2,636.7 L754.6,645.4 L759.0,648.3 L763.3,642.5 L767.7,625.0 L772.1,619.2 L775.0,622.1 L777.9,636.7 L780.8,630.8 L784.9,592.9 L786.4,590.0 L789.3,584.2 L792.2,592.9 L795.2,619.2 L798.1,622.1 L801.9,619.2 L804.8,636.7 L809.2,636.7 L813.5,625.0 L816.5,636.7 L819.4,642.5 L823.2,627.9 L826.7,654.2 L831.0,674.6 L834.0,686.2 L836.9,668.7 L839.8,642.5 L842.7,654.2 L847.1,642.5 L850.0,622.1 L852.3,610.4 L855.2,625.0 L858.2,642.5 L861.1,660.0 L864.0,689.2 L866.9,735.8 L869.8,770.8 L873.3,788.3 L876.2,770.8 L879.2,735.8 L882.1,712.5 L885.0,683.3 L888.5,648.3 L891.4,633.7 L894.3,636.7 L896.7,654.2 L900.2,660.0 L904.0,665.8 L908.3,674.6 L911.8,660.0 L915.6,651.2 L919.4,660.0 L922.9,662.9 L927.3,668.7 L929.9,662.9 L933.7,630.8 L938.1,601.7 L941.6,588.5 L944.5,601.7 L947.5,619.2 L951.2,630.8 L954.2,654.2 L956.5,668.7 L960.0,642.5 L964.4,619.2 L968.7,598.7 L972.5,585.6 L976.0,607.5 L980.4,613.3 L983.3,636.7 L985.7,651.2 L989.2,630.8 L993.5,616.2 L997.9,601.7 L1001.4,613.3 L1005.2,619.2 L1009.6,604.6 L1011.9,575.4 L1015.4,581.2 L1018.3,592.9 L1021.2,610.4 L1024.7,590.0 L1027.7,610.4 L1030.0,636.7 L1033.5,642.5 L1038.7,625.0 L1042.2,633.7 L1045.2,648.3 L1049.0,665.8 L1053.3,660.0 L1057.7,671.7 L1062.1,680.4 L1066.5,695.0 L1069.4,677.5 L1072.3,660.0 L1076.7,645.4 L1081.0,613.3 L1084.8,592.9" fill="none" stroke="#00BA38" stroke-width="5.0" stroke-linejoin="round" stroke-linecap="butt"/>
<path d="M643.2,657.1 L645.2,668.7 L647.2,651.2 L651.0,648.3 L654.8,625.0 L658.3,639.6 L660.7,622.1 L663.6,636.7 L665.6,654.2 L668.5,671.7 L671.5,695.0 L672.9,703.7 L675.8,695.0 L678.7,689.2 L681.7,677.5 L684.6,636.7 L687.5,595.8 L690.4,613.3 L693.3,613.3 L696.2,622.1 L700.6,607.5 L705.0,610.4 L707.9,598.7 L712.3,592.9 L715.2,575.4 L718.1,601.7 L721.0,625.0 L724.0,642.5 L726.9,625.0 L729.8,601.7 L732.7,578.3 L736.5,565.2 L740.0,572.5 L742.9,592.9 L745.8,613.3 L748.7,645.4 L751.7,660.0 L754.6,625.0 L757.5,613.3 L760.4,604.6 L763.3,616.2 L766.2,625.0 L769.2,645.4 L773.5,660.0 L776.5,683.3 L777.9,693.5 L780.8,665.8 L783.7,636.7 L785.2,625.0 L788.2,613.3 L791.1,636.7 L794.0,654.2 L796.9,665.8 L800.4,648.3 L803.3,627.9 L806.2,613.3 L809.2,636.7 L812.1,654.2 L815.0,668.7 L819.4,654.2 L823.7,657.1 L826.7,665.8 L829.6,689.2 L832.5,718.3 L835.4,709.6 L838.3,715.4 L841.2,700.8 L845.6,686.2 L848.5,674.6 L852.3,660.0 L855.8,651.2 L858.7,665.8 L861.7,689.2 L864.6,718.3 L867.5,747.5 L870.4,770.8 L873.3,776.7 L877.7,759.2 L880.6,741.7 L883.5,718.3 L886.5,695.0 L889.4,680.4 L893.7,677.5 L898.1,665.8 L901.0,671.7 L904.8,683.3 L908.3,700.8 L911.2,709.6 L914.7,689.2 L918.5,677.5 L922.9,671.7 L927.3,680.4 L929.9,657.1 L931.4,642.5 L935.2,625.0 L938.1,619.2 L941.9,625.0 L945.4,642.5 L948.3,665.8 L951.8,683.3 L955.6,703.7 L959.4,680.4 L962.3,660.0 L965.2,625.0 L968.2,604.6 L971.7,613.3 L974.6,630.8 L976.9,636.7 L979.8,625.0 L983.3,633.7 L986.2,630.8 L989.2,622.1 L992.7,592.9 L996.5,598.7 L1000.2,590.0 L1003.2,607.5 L1006.7,604.6 L1009.6,584.2 L1012.5,581.2 L1016.0,590.0 L1018.9,587.1 L1022.7,601.7 L1025.6,607.5 L1028.5,636.7 L1030.6,662.9 L1034.4,654.2 L1038.7,654.2 L1041.7,662.9 L1044.6,683.3 L1047.5,695.0 L1051.0,715.4 L1054.8,683.3 L1058.6,709.6 L1061.5,683.3 L1065.0,686.2 L1068.5,665.8 L1072.3,662.9 L1075.2,677.5 L1078.1,651.2 L1081.0,625.0 L1084.8,588.5" fill="none" stroke="#619CFF" stroke-width="5.0" stroke-linejoin="round" stroke-linecap="butt"/>
<g shape-rendering="crispEdges"><rect x="863" y="498" width="2" height="8" fill="#000"/><rect x="863" y="514" width="2" height="8" fill="#000"/><rect x="863" y="530" width="2" height="8" fill="#000"/><rect x="863" y="546" width="2" height="8" fill="#000"/><rect x="863" y="562" width="2" height="8" fill="#000"/><rect x="863" y="578" width="2" height="8" fill="#000"/><rect x="863" y="594" width="2" height="8" fill="#000"/><rect x="863" y="610" width="2" height="8" fill="#000"/><rect x="863" y="626" width="2" height="8" fill="#000"/><rect x="863" y="642" width="2" height="8" fill="#000"/><rect x="863" y="658" width="2" height="8" fill="#000"/><rect x="863" y="674" width="2" height="8" fill="#000"/><rect x="863" y="690" width="2" height="8" fill="#000"/><rect x="863" y="706" width="2" height="8" fill="#000"/><rect x="863" y="722" width="2" height="8" fill="#000"/><rect x="863" y="738" width="2" height="8" fill="#000"/><rect x="863" y="754" width="2" height="8" fill="#000"/><rect x="863" y="770" width="2" height="8" fill="#000"/><rect x="863" y="786" width="2" height="8" fill="#000"/><rect x="863" y="802" width="2" height="8" fill="#000"/><rect x="863" y="818" width="2" height="8" fill="#000"/><rect x="863" y="834" width="2" height="8" fill="#000"/><rect x="863" y="850" width="2" height="8" fill="#000"/><rect x="863" y="866" width="2" height="7" fill="#000"/></g>
<g shape-rendering="crispEdges"><rect x="622" y="498" width="1" height="376" fill="#333333"/><rect x="1105" y="498" width="2" height="376" fill="#333333"/><rect x="622" y="498" width="485" height="1" fill="#333333"/><rect x="622" y="872" width="485" height="2" fill="#333333"/></g>
<g shape-rendering="crispEdges"><rect x="123" y="62" width="485" height="46" fill="#D9D9D9"/><rect x="123" y="62" width="485" height="1" fill="#333333"/><rect x="123" y="62" width="1" height="46" fill="#333333"/><rect x="606" y="62" width="2" height="46" fill="#333333"/><rect x="123" y="107" width="485" height="2" fill="#333333"/></g>
<text x="366.0" y="95" font-size="23.47" fill="#1A1A1A" text-anchor="middle">DOX</text>
<g shape-rendering="crispEdges"><rect x="622" y="62" width="485" height="46" fill="#D9D9D9"/><rect x="622" y="62" width="485" height="1" fill="#333333"/><rect x="622" y="62" width="1" height="46" fill="#333333"/><rect x="1105" y="62" width="2" height="46" fill="#333333"/><rect x="622" y="107" width="485" height="2" fill="#333333"/></g>
<text x="865.0" y="95" font-size="23.47" fill="#1A1A1A" text-anchor="middle">VEH</text>
<g shape-rendering="crispEdges"><rect x="1105" y="107" width="48" height="378" fill="#D9D9D9"/><rect x="1105" y="107" width="48" height="2" fill="#333333"/><rect x="1105" y="107" width="2" height="378" fill="#333333"/><rect x="1151" y="107" width="2" height="378" fill="#333333"/><rect x="1105" y="483" width="48" height="2" fill="#333333"/></g>
<text x="0" y="0" transform="translate(1119,296.0) rotate(90)" font-size="23.47" fill="#1A1A1A" text-anchor="middle">H3K27ac</text>
<g shape-rendering="crispEdges"><rect x="1105" y="498" width="48" height="376" fill="#D9D9D9"/><rect x="1105" y="498" width="48" height="1" fill="#333333"/><rect x="1105" y="498" width="2" height="376" fill="#333333"/><rect x="1151" y="498" width="2" height="376" fill="#333333"/><rect x="1105" y="872" width="48" height="2" fill="#333333"/></g>
<text x="0" y="0" transform="translate(1119,686.0) rotate(90)" font-size="23.47" fill="#1A1A1A" text-anchor="middle">H3K9me3</text>
<rect x="116" y="441" width="8" height="2" fill="#333333" shape-rendering="crispEdges"/>
<text x="110" y="451.70" font-size="23.47" fill="#4D4D4D" text-anchor="end">0.020</text>
<rect x="116" y="373" width="8" height="2" fill="#333333" shape-rendering="crispEdges"/>
<text x="110" y="383.20" font-size="23.47" fill="#4D4D4D" text-anchor="end">0.025</text>
<rect x="116" y="304" width="8" height="2" fill="#333333" shape-rendering="crispEdges"/>
<text x="110" y="314.70" font-size="23.47" fill="#4D4D4D" text-anchor="end">0.030</text>
<rect x="116" y="235" width="8" height="2" fill="#333333" shape-rendering="crispEdges"/>
<text x="110" y="246.20" font-size="23.47" fill="#4D4D4D" text-anchor="end">0.035</text>
<rect x="116" y="167" width="8" height="2" fill="#333333" shape-rendering="crispEdges"/>
<text x="110" y="177.70" font-size="23.47" fill="#4D4D4D" text-anchor="end">0.040</text>
<rect x="116" y="831" width="8" height="2" fill="#333333" shape-rendering="crispEdges"/>
<text x="110" y="841.70" font-size="23.47" fill="#4D4D4D" text-anchor="end">0.020</text>
<rect x="116" y="763" width="8" height="2" fill="#333333" shape-rendering="crispEdges"/>
<text x="110" y="773.20" font-size="23.47" fill="#4D4D4D" text-anchor="end">0.025</text>
<rect x="116" y="694" width="8" height="2" fill="#333333" shape-rendering="crispEdges"/>
<text x="110" y="704.70" font-size="23.47" fill="#4D4D4D" text-anchor="end">0.030</text>
<rect x="116" y="626" width="8" height="2" fill="#333333" shape-rendering="crispEdges"/>
<text x="110" y="636.20" font-size="23.47" fill="#4D4D4D" text-anchor="end">0.035</text>
<rect x="116" y="557" width="8" height="2" fill="#333333" shape-rendering="crispEdges"/>
<text x="110" y="567.70" font-size="23.47" fill="#4D4D4D" text-anchor="end">0.040</text>
<rect x="144" y="874" width="2" height="7" fill="#333333" shape-rendering="crispEdges"/>
<text x="145" y="906.3" font-size="23.47" fill="#4D4D4D" text-anchor="middle">-2</text>
<rect x="254" y="874" width="2" height="7" fill="#333333" shape-rendering="crispEdges"/>
<text x="255" y="906.3" font-size="23.47" fill="#4D4D4D" text-anchor="middle">-1</text>
<rect x="364" y="874" width="2" height="7" fill="#333333" shape-rendering="crispEdges"/>
<text x="365" y="906.3" font-size="23.47" fill="#4D4D4D" text-anchor="middle">0</text>
<rect x="474" y="874" width="2" height="7" fill="#333333" shape-rendering="crispEdges"/>
<text x="475" y="906.3" font-size="23.47" fill="#4D4D4D" text-anchor="middle">1</text>
<rect x="584" y="874" width="2" height="7" fill="#333333" shape-rendering="crispEdges"/>
<text x="585" y="906.3" font-size="23.47" fill="#4D4D4D" text-anchor="middle">2</text>
<rect x="643" y="874" width="2" height="7" fill="#333333" shape-rendering="crispEdges"/>
<text x="644" y="906.3" font-size="23.47" fill="#4D4D4D" text-anchor="middle">-2</text>
<rect x="753" y="874" width="2" height="7" fill="#333333" shape-rendering="crispEdges"/>
<text x="754" y="906.3" font-size="23.47" fill="#4D4D4D" text-anchor="middle">-1</text>
<rect x="863" y="874" width="2" height="7" fill="#333333" shape-rendering="crispEdges"/>
<text x="864" y="906.3" font-size="23.47" fill="#4D4D4D" text-anchor="middle">0</text>
<rect x="973" y="874" width="2" height="7" fill="#333333" shape-rendering="crispEdges"/>
<text x="974" y="906.3" font-size="23.47" fill="#4D4D4D" text-anchor="middle">1</text>
<rect x="1083" y="874" width="2" height="7" fill="#333333" shape-rendering="crispEdges"/>
<text x="1084" y="906.3" font-size="23.47" fill="#4D4D4D" text-anchor="middle">2</text>
<text x="614.8" y="938.8" font-size="29.33" fill="#000" text-anchor="middle">pos_kb</text>
<text x="0" y="0" transform="translate(36.7,491.5) rotate(-90)" font-size="29.33" fill="#000" text-anchor="middle">signal</text>
<text x="1197" y="425.6" font-size="29.33" fill="#000">time</text>
<line x1="1200.8" x2="1237.8" y1="466.2" y2="466.2" stroke="#F8766D" stroke-width="5"/>
<text x="1257" y="475.5" font-size="23.47" fill="#000">144R</text>
<line x1="1200.8" x2="1237.8" y1="512.2" y2="512.2" stroke="#00BA38" stroke-width="5"/>
<text x="1257" y="521.5" font-size="23.47" fill="#000">24R</text>
<line x1="1200.8" x2="1237.8" y1="558.2" y2="558.2" stroke="#619CFF" stroke-width="5"/>
<text x="1257" y="567.5" font-size="23.47" fill="#000">24T</text>
</svg></body></html>
